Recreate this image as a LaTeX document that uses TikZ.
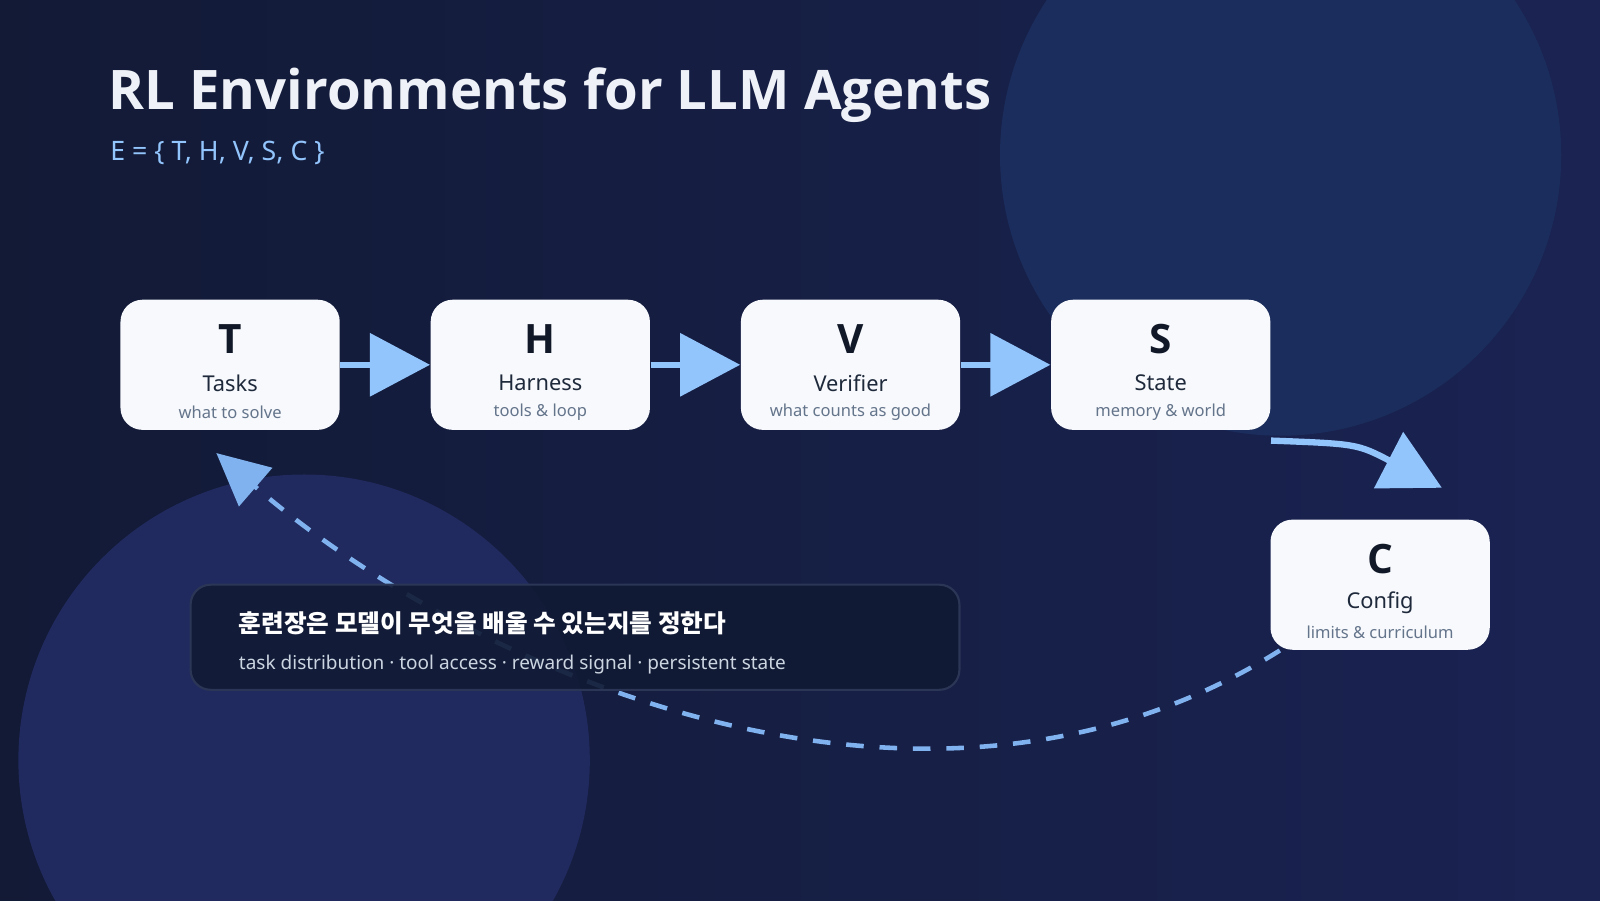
\documentclass[tikz,border=0pt]{standalone}
\usepackage{fontspec}
\setmainfont{Noto Sans}
\newfontfamily\heavy{Open Sans}
\newfontfamily\kor{Noto Sans CJK KR}
\usetikzlibrary{arrows.meta,positioning}
\definecolor{bgA}{HTML}{121A36}
\definecolor{bgB}{HTML}{1A2352}
\definecolor{blobA}{HTML}{1B2D5C}
\definecolor{blobB}{HTML}{212A5E}
\definecolor{boxfill}{HTML}{F7F9FC}
\definecolor{ink}{HTML}{111827}
\definecolor{inkname}{HTML}{1E293B}
\definecolor{inksub}{HTML}{64748B}
\definecolor{flow}{HTML}{93C5FD}
\definecolor{loopc}{HTML}{7FB2EE}
\definecolor{capfill}{HTML}{111A33}
\definecolor{capline}{HTML}{2B3656}
\definecolor{capsub}{HTML}{CBD5E1}
\definecolor{titlec}{HTML}{EEF1F7}
\begin{document}
\begin{tikzpicture}[x=0.0102cm,y=-0.0102cm]
  \tikzset{ box/.style={rectangle,rounded corners=0.22cm,fill=boxfill,minimum width=2.19cm,minimum height=1.3cm,inner sep=0pt},
    stletter/.style={text=ink,font=\heavy\fontsize{11.5}{12}\selectfont\bfseries},
    stname/.style={text=inkname,font=\fontsize{6.2}{7}\selectfont},
    stsub/.style={text=inksub,font=\fontsize{4.7}{5}\selectfont},
    flowarrow/.style={draw=flow,line width=1.8pt,-{Triangle[length=0.6cm,width=0.62cm]}},
  }
  % background
  \shade[left color=bgA,right color=bgB] (0,0) rectangle (1568,882);
  \useasboundingbox (0,0) rectangle (1568,882);
  \fill[blobA] (1255,152) circle (275);
  \fill[blobB] (298,745) circle (280);

  % title
  \node[anchor=west,text=titlec,font=\heavy\fontsize{15.5}{18}\selectfont\bfseries] (title) at (94,93) {RL Environments for LLM Agents};
  \node[anchor=west,text=flow,font=\fontsize{7.6}{9}\selectfont] (formula) at (96,150) {E = \{ T, H, V, S, C \}};

  % the five stages
  \node[box] (T) at (225.5,357.5) {};
  \node[box] (H) at (529.5,357.5) {};
  \node[box] (V) at (833.5,357.5) {};
  \node[box] (S) at (1137.5,357.5) {};
  \node[box] (C) at (1352.5,573) {};
  \foreach \n/\t/\s in {T/Tasks/what to solve, H/Harness/tools \& loop, V/Verifier/what counts as good, S/State/memory \& world, C/Config/limits \& curriculum}{
    \node[stletter] at ([yshift=-0.4cm]\n.north) {\n};
    \node[stname] at ([yshift=-0.84cm]\n.north) {\t};
    \node[stsub] at ([yshift=-1.13cm]\n.north) {\s};
  }

  % the flow between stages
  \draw[flowarrow] (T) -- (H);
  \draw[flowarrow] (H) -- (V);
  \draw[flowarrow] (V) -- (S);
  \coordinate (ctip) at (1413,478);
  \coordinate (ttip) at (212,444);
  \draw[flowarrow] ([yshift=-0.1cm]S.south east) .. controls (1330,435) .. (ctip);

  % feedback loop
  \draw[draw=loopc,line width=1.3pt,dash pattern=on 5pt off 4.5pt,-{Triangle[length=0.52cm,width=0.5cm]}]
    ([xshift=0.1cm]C.south west) .. controls (900,860) and (450,650) .. (ttip);

  % caption
  \node[rectangle,rounded corners=0.2cm,fill=capfill,fill opacity=0.9,draw=capline,line width=0.6pt,minimum width=7.68cm,minimum height=1.05cm] (cap) at (563.5,624.5) {};
  \node[anchor=west,text=white,font=\kor\fontsize{7}{8}\selectfont\bfseries] (ko) at (222,611) {훈련장은 모델이 무엇을 배울 수 있는지를 정한다};
  \node[anchor=west,text=capsub,font=\fontsize{5.4}{6}\selectfont] (en) at (222,651) {task distribution · tool access · reward signal · persistent state};
\end{tikzpicture}
\end{document}
